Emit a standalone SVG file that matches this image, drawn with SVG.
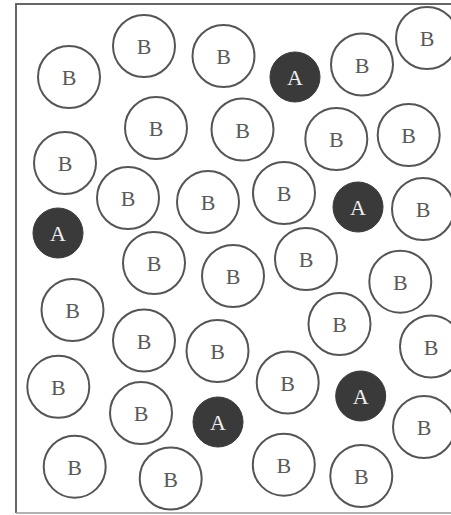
<svg xmlns="http://www.w3.org/2000/svg" width="451" height="515" viewBox="0 0 451 515">
<style>
.b circle{fill:#fff;stroke:#555;stroke-width:2}
.a circle{fill:#3a3a3a;stroke:#3a3a3a;stroke-width:1}
text{font-family:"Liberation Serif","Times New Roman",serif;font-size:22px;text-anchor:middle}
.b text{fill:#5a5a5a}
.a text{fill:#eeeeee}
.frame{stroke:#666;stroke-width:2;fill:none}
</style>
<rect width="451" height="515" fill="#fff"/>
<g id="frame">
<path class="frame" d="M451 4 H16 V513"/>
<path d="M16 513 H451" stroke="#999" stroke-width="1.5"/>
</g>
<g id="n1" class="b"><circle cx="69" cy="77" r="31"/><text x="69" y="85">B</text></g>
<g id="n2" class="b"><circle cx="144" cy="46" r="31"/><text x="144" y="54">B</text></g>
<g id="n3" class="b"><circle cx="223.5" cy="56" r="31"/><text x="223.5" y="64">B</text></g>
<g id="n4" class="a"><circle cx="295" cy="77" r="25"/><text x="295" y="85">A</text></g>
<g id="n5" class="b"><circle cx="362" cy="64.5" r="31"/><text x="362" y="72.5">B</text></g>
<g id="n6" class="b"><circle cx="427" cy="38" r="31"/><text x="427" y="46">B</text></g>
<g id="n7" class="b"><circle cx="156" cy="128" r="31"/><text x="156" y="136">B</text></g>
<g id="n8" class="b"><circle cx="242.5" cy="129.5" r="31"/><text x="242.5" y="137.5">B</text></g>
<g id="n9" class="b"><circle cx="336.3" cy="139" r="31"/><text x="336.3" y="147">B</text></g>
<g id="n10" class="b"><circle cx="408.7" cy="135" r="31"/><text x="408.7" y="143">B</text></g>
<g id="n11" class="b"><circle cx="65" cy="163" r="31"/><text x="65" y="171">B</text></g>
<g id="n12" class="b"><circle cx="128" cy="198" r="31"/><text x="128" y="206">B</text></g>
<g id="n13" class="b"><circle cx="208" cy="202" r="31"/><text x="208" y="210">B</text></g>
<g id="n14" class="b"><circle cx="284" cy="193" r="31"/><text x="284" y="201">B</text></g>
<g id="n15" class="a"><circle cx="358" cy="207" r="25"/><text x="358" y="215">A</text></g>
<g id="n16" class="b"><circle cx="423" cy="209" r="31"/><text x="423" y="217">B</text></g>
<g id="n17" class="a"><circle cx="58" cy="233" r="25"/><text x="58" y="241">A</text></g>
<g id="n18" class="b"><circle cx="154" cy="263" r="31"/><text x="154" y="271">B</text></g>
<g id="n19" class="b"><circle cx="233" cy="276" r="31"/><text x="233" y="284">B</text></g>
<g id="n20" class="b"><circle cx="306" cy="259" r="31"/><text x="306" y="267">B</text></g>
<g id="n21" class="b"><circle cx="400.3" cy="281.7" r="31"/><text x="400.3" y="289.7">B</text></g>
<g id="n22" class="b"><circle cx="72.5" cy="310" r="31"/><text x="72.5" y="318">B</text></g>
<g id="n23" class="b"><circle cx="144" cy="340.5" r="31"/><text x="144" y="348.5">B</text></g>
<g id="n24" class="b"><circle cx="217.5" cy="351" r="31"/><text x="217.5" y="359">B</text></g>
<g id="n25" class="b"><circle cx="339.5" cy="324" r="31"/><text x="339.5" y="332">B</text></g>
<g id="n26" class="b"><circle cx="431" cy="346.5" r="31"/><text x="431" y="354.5">B</text></g>
<g id="n27" class="b"><circle cx="58.3" cy="386.8" r="31"/><text x="58.3" y="394.8">B</text></g>
<g id="n28" class="b"><circle cx="141" cy="413" r="31"/><text x="141" y="421">B</text></g>
<g id="n29" class="a"><circle cx="218" cy="422" r="25"/><text x="218" y="430">A</text></g>
<g id="n30" class="b"><circle cx="287.7" cy="382.5" r="31"/><text x="287.7" y="390.5">B</text></g>
<g id="n31" class="a"><circle cx="360.7" cy="396" r="25"/><text x="360.7" y="404">A</text></g>
<g id="n32" class="b"><circle cx="424" cy="427" r="31"/><text x="424" y="435">B</text></g>
<g id="n33" class="b"><circle cx="74.7" cy="466.7" r="31"/><text x="74.7" y="474.7">B</text></g>
<g id="n34" class="b"><circle cx="170.7" cy="478.5" r="31"/><text x="170.7" y="486.5">B</text></g>
<g id="n35" class="b"><circle cx="283.8" cy="464.7" r="31"/><text x="283.8" y="472.7">B</text></g>
<g id="n36" class="b"><circle cx="361.3" cy="476" r="31"/><text x="361.3" y="484">B</text></g>
</svg>
